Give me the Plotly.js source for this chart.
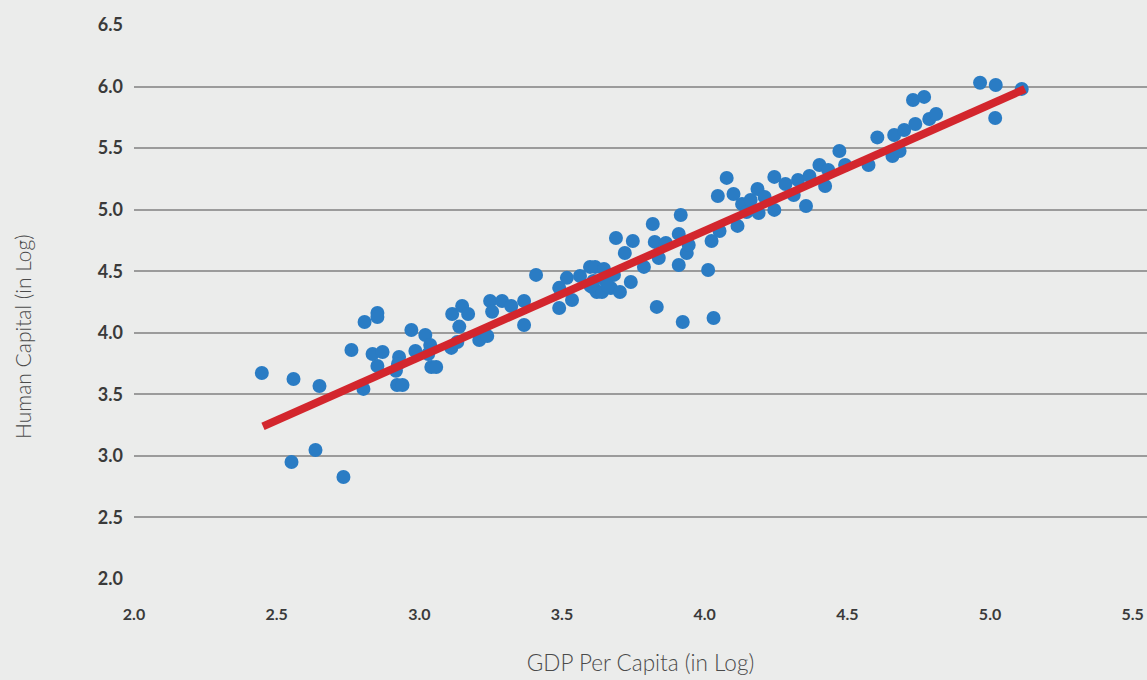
<!DOCTYPE html>
<html>
<head>
<meta charset="utf-8">
<script src="https://cdn.plot.ly/plotly-3.0.1.min.js"></script>
<style>
  html, body { margin: 0; padding: 0; background: #ebeceb; }
  #chart { width: 1147px; height: 680px; }
</style>
</head>
<body>
<div id="chart"></div>
<script>
// GDP per capita (log) for each country
const gdpLog = [
  2.448, 2.559, 2.650, 2.552, 2.636, 2.734, 2.762, 2.808, 2.853, 2.853,
  2.804, 2.836, 2.853, 2.871, 2.929, 2.925, 2.918, 2.922, 2.941, 2.972,
  2.986, 3.021, 3.038, 3.031, 3.042, 3.059, 3.115, 3.112, 3.140, 3.150,
  3.171, 3.133, 3.210, 3.238, 3.248, 3.255, 3.290, 3.322, 3.367, 3.367,
  3.409, 3.490, 3.490, 3.517, 3.535, 3.563, 3.598, 3.616, 3.611, 3.622,
  3.640, 3.647, 3.654, 3.671, 3.682, 3.689, 3.703, 3.720, 3.748, 3.741,
  3.787, 3.818, 3.825, 3.839, 3.864, 3.832, 3.909, 3.916, 3.909, 3.923,
  3.937, 3.944, 4.012, 4.024, 4.031, 4.046, 4.052, 4.077, 4.101, 4.115,
  4.131, 4.147, 4.161, 4.185, 4.189, 4.210, 4.244, 4.244, 4.283, 4.312,
  4.327, 4.355, 4.367, 4.402, 4.422, 4.433, 4.472, 4.492, 4.574, 4.605,
  4.658, 4.664, 4.683, 4.699, 4.730, 4.738, 4.769, 4.787, 4.811, 4.965,
  5.020, 5.018, 5.111, 3.600, 3.660, 3.610
];
// Human capital (log) for each country
const humanCapitalLog = [
  3.673, 3.625, 3.568, 2.950, 3.048, 2.829, 3.860, 4.088, 4.161, 4.128,
  3.544, 3.828, 3.730, 3.844, 3.804, 3.746, 3.692, 3.576, 3.576, 4.023,
  3.852, 3.982, 3.901, 3.828, 3.722, 3.722, 4.153, 3.877, 4.050, 4.218,
  4.153, 3.925, 3.941, 3.974, 4.258, 4.171, 4.258, 4.218, 4.258, 4.063,
  4.470, 4.365, 4.201, 4.446, 4.266, 4.461, 4.535, 4.535, 4.364, 4.331,
  4.331, 4.518, 4.421, 4.364, 4.470, 4.770, 4.331, 4.648, 4.746, 4.413,
  4.535, 4.884, 4.738, 4.608, 4.730, 4.210, 4.803, 4.957, 4.551, 4.088,
  4.648, 4.713, 4.510, 4.746, 4.120, 5.111, 4.827, 5.258, 5.127, 4.868,
  5.046, 4.981, 5.079, 5.168, 4.973, 5.103, 5.266, 4.998, 5.209, 5.119,
  5.241, 5.030, 5.274, 5.363, 5.192, 5.323, 5.477, 5.363, 5.363, 5.587,
  5.436, 5.607, 5.477, 5.647, 5.891, 5.696, 5.916, 5.736, 5.777, 6.031,
  6.013, 5.745, 5.981, 4.380, 4.380, 4.421
];
// Fitted trend line end points
const trendX = [2.452, 5.122];
const trendY = [3.240, 5.980];

const xTicks = [2.0, 2.5, 3.0, 3.5, 4.0, 4.5, 5.0, 5.5];
const yTicks = [2.0, 2.5, 3.0, 3.5, 4.0, 4.5, 5.0, 5.5, 6.0, 6.5];

const xTitle = 'GDP Per Capita (in Log)';
const yTitle = 'Human Capital (in Log)';

const bg = '#ebeceb';

const data = [
  {
    type: 'scatter',
    mode: 'markers',
    x: gdpLog,
    y: humanCapitalLog,
    marker: { color: '#2a7cc4', size: 14, line: { width: 0 } },
    hoverinfo: 'x+y',
    showlegend: false
  },
  {
    type: 'scatter',
    mode: 'lines',
    x: trendX,
    y: trendY,
    line: { color: '#d3262d', width: 8 },
    hoverinfo: 'skip',
    showlegend: false
  }
];

const layout = {
  width: 1147,
  height: 680,
  paper_bgcolor: bg,
  plot_bgcolor: bg,
  margin: { l: 134, r: 0, t: 25, b: 101, pad: 0 },
  font: { family: 'Lato, "Open Sans", sans-serif', color: '#3c3c3c' },
  xaxis: {
    range: [2.0, 5.55],
    tickvals: xTicks,
    ticktext: xTicks.map(v => v.toFixed(1)),
    showgrid: false,
    zeroline: false,
    showline: false,
    ticks: '',
    ticklabelstandoff: 24,
    tickfont: { size: 16, family: 'Lato', weight: 'bold', color: '#3a3a3a' },
    title: {
      text: xTitle,
      font: { size: 22.5, family: 'Lato', weight: 300, color: '#4a4a4a' },
      standoff: 33
    }
  },
  yaxis: {
    range: [2.0, 6.5],
    tickvals: yTicks,
    ticktext: yTicks.map(v => v.toFixed(1)),
    showgrid: true,
    gridcolor: '#9b9b9b',
    gridwidth: 1.5,
    zeroline: false,
    showline: false,
    ticks: '',
    ticklabelstandoff: 10,
    tickfont: { size: 18, family: 'Lato', weight: 'bold', color: '#3a3a3a' }
  },
  annotations: [
    {
      text: yTitle,
      xref: 'paper', yref: 'paper',
      x: -0.1106, y: 0.4386,
      xanchor: 'center', yanchor: 'middle',
      textangle: -90,
      showarrow: false,
      font: { size: 21, family: 'Lato', weight: 300, color: '#4a4a4a' }
    }
  ]
};

Plotly.newPlot('chart', data, layout, { displayModeBar: false });
</script>
</body>
</html>
